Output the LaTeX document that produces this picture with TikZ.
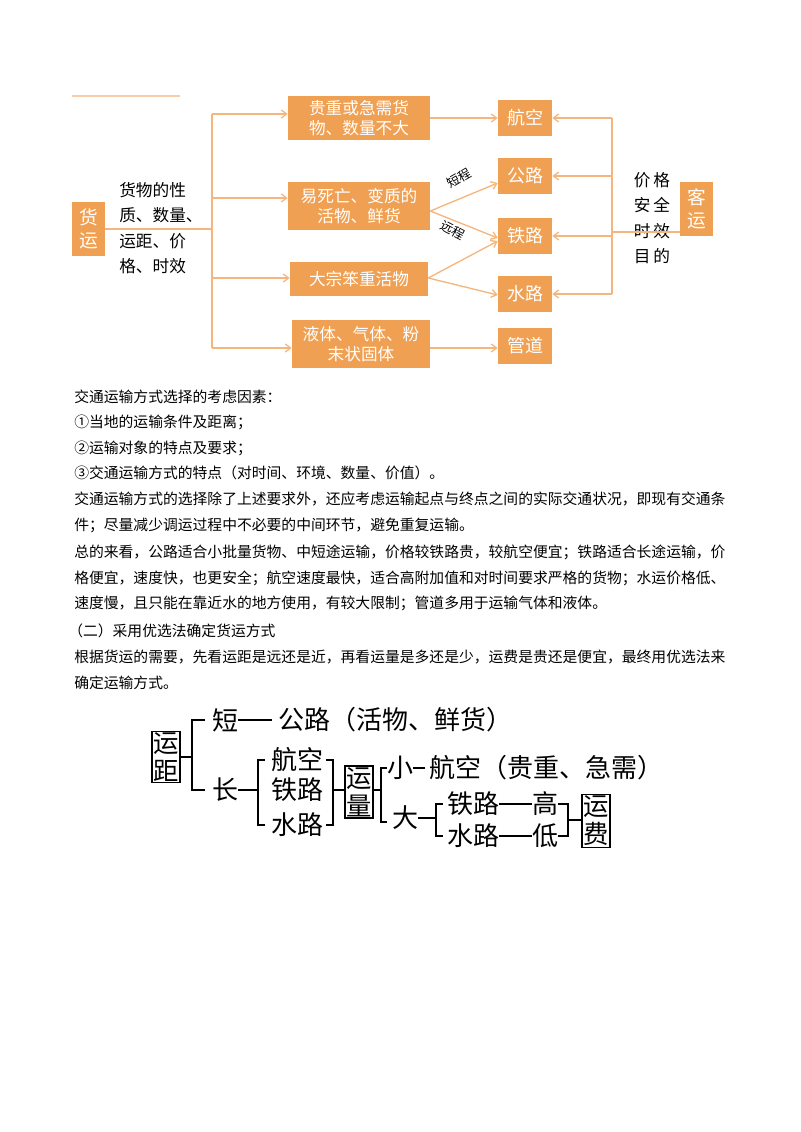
\documentclass[tikz,border=0pt]{standalone}
\usepackage{fontspec}
\setmainfont{Noto Sans CJK SC}
\usetikzlibrary{arrows.meta}
\definecolor{ob}{RGB}{240,160,82}
\definecolor{ol}{RGB}{245,182,125}
\begin{document}
\begin{tikzpicture}[x=0.75pt,y=-0.75pt,
  ob/.style={fill=ob,draw=none,text=white,font=\fontsize{12.5}{15}\selectfont,align=center,inner sep=0pt},
  ln/.style={draw=ol,line width=1pt},
  ar/.style={ln,-{Straight Barb[length=4pt,width=6pt]}},
  bt/.style={anchor=west,inner sep=0pt,font=\fontsize{11.1}{14}\selectfont},
  bg/.style={inner sep=0pt,font=\fontsize{19.5}{21}\selectfont},
  bx/.style={draw,line width=0.8pt,inner sep=1pt,align=center,font=\fontsize{19}{21}\selectfont},
  br/.style={line width=0.8pt}]
\useasboundingbox (0,0) rectangle (800,1132);
% top diagram
\draw[ln,draw=ol!70] (72,96) -- (180,96);
\fill[ob] (72,202) rectangle (105,256);
\node[text=white,font=\fontsize{14}{17}\selectfont,align=center,inner sep=0pt] (hyt) at (88.5,229) {货\\运};
\coordinate (hyr) at (105,229);
\node[anchor=north west,inner sep=0pt,font=\fontsize{12.5}{19}\selectfont,align=left] (attr) at (119,182) {货物的性\\质、数量、\\运距、价\\格、时效};
\node[ob,minimum width=106.5pt,minimum height=33pt] (b1) at (359,118) {贵重或急需货\\物、数量不大};
\node[ob,minimum width=106.5pt,minimum height=36pt] (b2) at (359,206) {易死亡、变质的\\活物、鲜货};
\node[ob,minimum width=103.5pt,minimum height=25.5pt] (b3) at (359,279) {大宗笨重活物};
\node[ob,minimum width=103.5pt,minimum height=36pt] (b4) at (361,344) {液体、气体、粉\\末状固体};
\foreach \n/\t/\y in {hk/航空/118,gl/公路/176,tl/铁路/236,sl/水路/294,gd/管道/346}
  \node[ob,minimum width=40.5pt,minimum height=27pt,font=\fontsize{13.5}{16}\selectfont] (\n) at (525,\y) {\t};
\fill[ob] (680,182) rectangle (713,236);
\node[text=white,font=\fontsize{14}{17}\selectfont,align=center,inner sep=0pt] (ky) at (696.5,209) {客\\运};
\node[inner sep=0pt,font=\fontsize{12.5}{19}\selectfont,align=center] (mud) at (652,218) {价\,格\\安\,全\\时\,效\\目\,的};
\coordinate (j) at (212,229);
\draw[ln] (hyr) -- (j);
\draw[ln] (212,114) -- (212,348);
\draw[ar] (212,114) -- (b1.west|-212,114);
\draw[ar] (212,198) -- (b2.west|-212,198);
\draw[ar] (212,278) -- (b3.west|-212,278);
\draw[ar] (212,348) -- (b4.west|-212,348);
\draw[ar] (b1.east|-0,118) -- (hk.west);
\draw[ar] (b2.east|-0,211) -- (gl.west|-0,183);
\draw[ar] (b2.east|-0,211) -- (tl.west|-0,238);
\draw[ar] (b3.east|-0,278) -- (tl.west|-0,241);
\draw[ar] (b3.east|-0,278) -- (sl.west|-0,295);
\draw[ar] (b4.east|-0,348) -- (gd.west|-0,348);
\node[rotate=30,font=\fontsize{9.5}{12}\selectfont,inner sep=0pt] (dc) at (459,178) {短程};
\node[rotate=-28,font=\fontsize{9.5}{12}\selectfont,inner sep=0pt] (yc) at (453,230) {远程};
\coordinate (rj) at (612,232);
\draw[ln] (612,118) -- (612,294);
\draw[ln] (rj) -- (680,232);
\draw[ar] (612,118) -- (hk.east);
\draw[ar] (612,176) -- (gl.east);
\draw[ar] (612,236) -- (tl.east);
\draw[ar] (612,294) -- (sl.east);
% body text
\node[bt] (t1) at (74,397) {交通运输方式选择的考虑因素：};
\node[bt] (t2) at (74,422) {①当地的运输条件及距离；};
\node[bt] (t3) at (74,448) {②运输对象的特点及要求；};
\node[bt] (t4) at (74,473) {③交通运输方式的特点（对时间、环境、数量、价值）。};
\node[bt] (t5) at (74,499) {交通运输方式的选择除了上述要求外，还应考虑运输起点与终点之间的实际交通状况，即现有交通条};
\node[bt] (t6) at (74,525) {件；尽量减少调运过程中不必要的中间环节，避免重复运输。};
\node[bt] (t7) at (74,552) {总的来看，公路适合小批量货物、中短途运输，价格较铁路贵，较航空便宜；铁路适合长途运输，价};
\node[bt] (t8) at (74,578) {格便宜，速度快，也更安全；航空速度最快，适合高附加值和对时间要求严格的货物；水运价格低、};
\node[bt] (t9) at (74,603) {速度慢，且只能在靠近水的地方使用，有较大限制；管道多用于运输气体和液体。};
\node[bt] (t10) at (68,631) {（二）采用优选法确定货运方式};
\node[bt] (t11) at (74,657) {根据货运的需要，先看运距是远还是近，再看运量是多还是少，运费是贵还是便宜，最终用优选法来};
\node[bt] (t12) at (74,683) {确定运输方式。};
% bottom diagram
\node[bx] (yj) at (166,757) {运\\距};
\draw[br] (yj.east) -- (192,757);
\draw[br] (205,720) -- (192,720) -- (192,790) -- (205,790);
\node[bg] (d) at (225,720) {短};
\node[bg,anchor=west] (gl2) at (278,720) {公路（活物、鲜货）};
\draw[br] (d.east) -- (272,720);
\node[bg] (c) at (225,790) {长};
\draw[br] (c.east) -- (258,790);
\draw[br] (265,760) -- (258,760) -- (258,825) -- (265,825);
\node[bg] (hk2) at (297,760) {航空};
\node[bg] (tl2) at (297,790) {铁路};
\node[bg] (sl2) at (297,825) {水路};
\draw[br] (326,760) -- (333,760) -- (333,825) -- (326,825);
\node[bx] (yl) at (359,792) {运\\量};
\draw[br] (333,790) -- (yl.west|-0,790);
\draw[br] (yl.east|-0,790) -- (381,790);
\draw[br] (387,768) -- (381,768) -- (381,822) -- (387,822);
\node[bg] (x) at (400,768) {小};
\node[bg,anchor=west] (hk3) at (429,768) {航空（贵重、急需）};
\draw[br] (x.east) -- (425,768);
\node[bg] (da) at (405,818) {大};
\draw[br] (da.east) -- (436,818);
\draw[br] (443,804) -- (436,804) -- (436,836) -- (443,836);
\node[bg] (tl3) at (473,804) {铁路};
\node[bg] (sl3) at (473,836) {水路};
\node[bg] (g) at (545,804) {高};
\node[bg] (di) at (545,836) {低};
\draw[br] (tl3.east) -- (g.west);
\draw[br] (sl3.east) -- (di.west);
\draw[br] (558,804) -- (568,804) -- (568,836) -- (558,836);
\node[bx] (yf) at (596,821) {运\\费};
\draw[br] (568,820) -- (yf.west|-0,820);
\end{tikzpicture}
\end{document}
